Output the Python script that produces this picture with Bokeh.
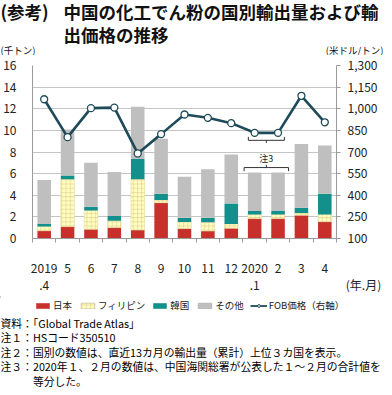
from bokeh.plotting import figure
from bokeh.layouts import column
from bokeh.models import (Range1d, LinearAxis, FixedTicker, NumeralTickFormatter, Label,
                          Legend, LegendItem, ColumnDataSource)
from bokeh.embed import file_html
from bokeh.resources import INLINE

# ---------------- data ----------------
months = ["2019\n.4", "5", "6", "7", "8", "9", "10", "11", "12", "2020\n.1", "2", "3", "4"]
japan = [0.72, 1.10, 0.86, 1.01, 0.78, 3.31, 0.92, 0.69, 0.95, 1.84, 1.84, 2.16, 1.56]
philippines = [0.38, 4.38, 1.73, 0.63, 4.70, 0.26, 0.61, 0.81, 0.40, 0.38, 0.38, 0.20, 0.66]
korea = [0.25, 0.34, 0.35, 0.43, 1.87, 0.58, 0.40, 0.43, 1.88, 0.32, 0.32, 0.49, 1.93]
other = [4.07, 4.27, 4.06, 4.07, 4.84, 5.07, 3.78, 4.47, 4.55, 3.57, 3.57, 5.88, 4.44]
fob_price = [1066, 803, 1004, 1008, 690, 824, 960, 937, 900, 833, 833, 1090, 906]
left_ticks = [0, 2, 4, 6, 8, 10, 12, 14, 16]
right_ticks = [100, 250, 400, 550, 700, 850, 1000, 1150, 1300]
series_names = ["日本", "フィリピン", "韓国", "その他"]
line_name = "FOB価格（右軸）"
x_unit = "(年.月)"
note3_months = [9, 10]

FONT = "Noto Sans CJK JP"
W = 384
TOP_H, CH_H = 55, 241
BOT_H = 387 - TOP_H - CH_H
FL, FR = 26, 336
CT, FRAME_H = 10, 185


def blank(h):
    f = figure(width=W, height=h, x_range=Range1d(0, W), y_range=Range1d(h, 0),
               output_backend="svg", toolbar_location=None,
               x_axis_location=None, y_axis_location=None, frame_align=False,
               min_border_left=0, min_border_right=0, min_border_top=0, min_border_bottom=0)
    f.outline_line_color = None
    f.xgrid.visible = False
    f.ygrid.visible = False
    return f


def lab(f, x, y, text, size, align="left", bold=False, color="#111111"):
    f.add_layout(Label(x=x, y=y, text=text, text_align=align, text_baseline="middle",
                       text_font=FONT, text_font_size=f"{size}px",
                       text_font_style="bold" if bold else "normal", text_color=color))


# ---------------- title area ----------------
pt = blank(TOP_H)
lab(pt, 0, 11, "(参考)", 17.5, bold=True)
lab(pt, 63, 11, "中国の化工でん粉の国別輸出量および輸", 17.5, bold=True)
lab(pt, 63, 33.5, "出価格の推移", 17.5, bold=True)
lab(pt, 0, 49, "(千トン)", 9.5)
lab(pt, 383, 49, "(米ドル/トン)", 9.5, align="right")

# ---------------- chart ----------------
xs = list(range(len(months)))
src = ColumnDataSource(dict(x=xs, jp=japan, ph=philippines, kr=korea, ot=other, price=fob_price))

p = figure(width=W, height=CH_H, x_range=Range1d(-0.5, len(months) - 0.5), y_range=Range1d(0, 16),
           output_backend="svg", toolbar_location=None, frame_align=False,
           min_border_left=FL, min_border_right=W - FR, min_border_top=CT,
           min_border_bottom=CH_H - CT - FRAME_H)
p.outline_line_color = None
p.extra_y_ranges = {"price": Range1d(100, 1300)}

AX = "#9A9A9A"
ya = p.yaxis[0]
ya.ticker = FixedTicker(ticks=left_ticks)
ya.axis_line_color = AX
ya.major_tick_line_color = None
ya.minor_tick_line_color = None
ya.major_label_standoff = 10
ya.major_label_text_font = FONT
ya.major_label_text_font_size = "12px"
ya.major_label_text_color = "#222222"

ra = LinearAxis(y_range_name="price", ticker=FixedTicker(ticks=right_ticks),
                formatter=NumeralTickFormatter(format="0,0"))
ra.axis_line_color = AX
ra.major_tick_line_color = AX
ra.major_tick_out = 4
ra.major_tick_in = 0
ra.minor_tick_line_color = None
ra.major_label_standoff = 7
ra.major_label_text_font = FONT
ra.major_label_text_font_size = "12px"
ra.major_label_text_color = "#222222"
p.add_layout(ra, "right")

x_end = len(months) - 0.5
xa = p.xaxis[0]
xa.ticker = FixedTicker(ticks=xs + [x_end], minor_ticks=[i - 0.5 for i in range(len(months) + 1)])
overrides = {i: m for i, m in enumerate(months)}
overrides[x_end] = "\n" + "\u3000" * 4 + "\u2002" + x_unit
xa.major_label_overrides = overrides
xa.axis_line_color = AX
xa.major_tick_line_color = None
xa.minor_tick_line_color = AX
xa.minor_tick_out = 4
xa.minor_tick_in = 0
xa.major_label_standoff = 14
xa.major_label_text_font = FONT
xa.major_label_text_font_size = "12px"
xa.major_label_text_line_height = 1.05
xa.major_label_text_color = "#222222"

p.xgrid.visible = False
p.ygrid.ticker = FixedTicker(ticks=left_ticks)
p.ygrid.grid_line_color = "#C4C4C4"

colors = ["#C8302C", "#FFFFC4", "#14908C", "#BFBFBF"]
HATCH = dict(hatch_pattern="+", hatch_color="#E2CF8A", hatch_scale=4.2, hatch_weight=0.7)
bars = p.vbar_stack(["jp", "ph", "kr", "ot"], x="x", width=0.58, source=src,
                    fill_color=colors, line_color=None)
for k, v in HATCH.items():
    setattr(bars[1].glyph, k, v)
bars[1].glyph.line_color = "#E0D9A0"
bars[1].glyph.line_width = 0.6

LC = "#1E4A59"
p.line("x", "price", source=src, y_range_name="price", line_color=LC, line_width=2.6)
p.scatter("x", "price", source=src, y_range_name="price", marker="circle", size=7,
          fill_color="white", line_color=LC, line_width=1.3)

i0, i1 = note3_months
xc = (i0 + i1) / 2
yb = min(fob_price[i0], fob_price[i1]) - 52
p.multi_line(xs=[[i0 - 0.27, i0 - 0.27, i1 + 0.27, i1 + 0.27], [xc, xc]],
             ys=[[yb + 24, yb, yb, yb + 24], [yb, yb - 18]],
             y_range_name="price", line_color="#333333", line_width=1)
tot = [sum(v[i] for v in (japan, philippines, korea, other)) for i in (i0, i1)]
yt = max(tot) + 0.45
p.multi_line(xs=[[i0 - 0.45, i0 - 0.45, i1 + 0.45, i1 + 0.45], [xc, xc]],
             ys=[[yt - 0.33, yt, yt, yt - 0.33], [yt, yt + 0.25]],
             line_color="#333333", line_width=1)
p.add_layout(Label(x=xc, y=yt + 0.85, text="注3", text_align="center", text_baseline="middle",
                   text_font=FONT, text_font_size="9px", text_color="#222222"))

# ---------------- legend + notes ----------------
pb = blank(BOT_H)
OFF = [-1000]  # legend-only renderers, kept outside the visible range
leg_r = []
for c in colors:
    leg_r.append(pb.vbar(x=OFF, top=[1], width=1, fill_color=c, line_color=None))
for k, v in HATCH.items():
    setattr(leg_r[1].glyph, k, v)
leg_r[1].glyph.line_color = "#B8B08A"
leg_r[1].glyph.line_width = 0.6
leg_r[3].glyph.line_color = "#A8A8A8"
leg_r[3].glyph.line_width = 0.6
lr = pb.line(x=OFF * 2, y=[0, 1], line_color=LC, line_width=1.8)
ls = pb.scatter(x=OFF, y=[0], marker="circle", size=5, fill_color="white", line_color=LC, line_width=1)
items = [LegendItem(label=n, renderers=[r]) for n, r in zip(series_names, leg_r)]
items.append(LegendItem(label=line_name, renderers=[lr, ls]))
leg = Legend(items=items, location=(34, BOT_H - 16), orientation="horizontal", glyph_width=17,
             glyph_height=7, label_text_font=FONT, label_text_font_size="9.5px", spacing=6,
             padding=0, margin=0, border_line_color=None, background_fill_alpha=0,
             label_standoff=2, label_height=12, label_text_color="#222222")
pb.add_layout(leg)

NS = 10.8
notes = [
    (0, 26, "資料：「Global Trade Atlas」"),
    (0, 40.5, "注１：HSコード350510"),
    (0, 55, "注２：国別の数値は、直近13カ月の輸出量（累計）上位３カ国を表示。"),
    (0, 69.5, "注３：2020年１、２月の数値は、中国海関総署が公表した１～２月の合計値を"),
    (3 * NS, 84, "等分した。"),
]
for fx, fy, t in notes:
    lab(pb, fx, fy, t, NS, color="#000000")

layout = column(pt, p, pb, spacing=0)
open("out.html", "w").write(file_html(layout, INLINE))
